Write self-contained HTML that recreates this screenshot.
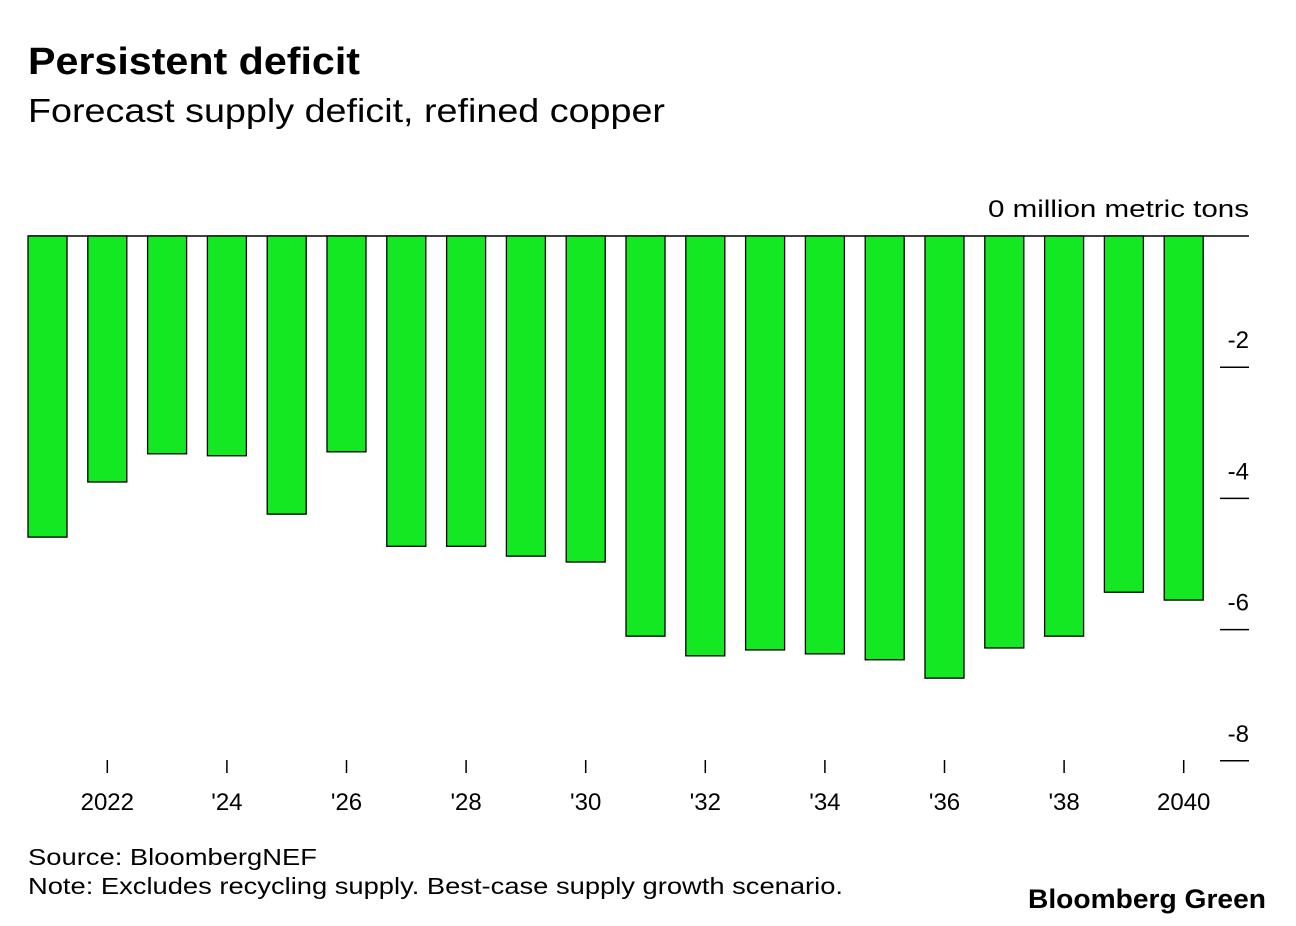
<!DOCTYPE html>
<html><head><meta charset="utf-8">
<style>
body{margin:0;background:#fff;width:1296px;height:926px;overflow:hidden;font-family:"Liberation Sans",sans-serif;}
svg{display:block}
</style></head>
<body>
<svg id="chart" width="1296" height="926">
<text x="28" y="74" font-size="38" font-weight="bold" fill="#000" textLength="332" lengthAdjust="spacingAndGlyphs">Persistent deficit</text>
<text x="28" y="122" font-size="33" fill="#000" textLength="637" lengthAdjust="spacingAndGlyphs">Forecast supply deficit, refined copper</text>
<g id="grid"></g>
<g id="bars"></g>
<g id="xaxis"></g>
<text x="28" y="865" font-size="23" fill="#000" textLength="289" lengthAdjust="spacingAndGlyphs">Source: BloombergNEF</text>
<text x="28" y="894" font-size="23" fill="#000" textLength="815" lengthAdjust="spacingAndGlyphs">Note: Excludes recycling supply. Best-case supply growth scenario.</text>
<text x="1028" y="908" font-size="27" font-weight="bold" fill="#000" textLength="238" lengthAdjust="spacingAndGlyphs">Bloomberg Green</text>
</svg>
<script>
const years=[2021,2022,2023,2024,2025,2026,2027,2028,2029,2030,2031,2032,2033,2034,2035,2036,2037,2038,2039,2040];
const values=[-4.59,-3.75,-3.32,-3.35,-4.24,-3.29,-4.73,-4.73,-4.88,-4.97,-6.10,-6.40,-6.31,-6.37,-6.46,-6.74,-6.28,-6.10,-5.43,-5.55];
const yTicks=[-2,-4,-6,-8];
const xTickYears=[2022,2024,2026,2028,2030,2032,2034,2036,2038,2040];
const xTickLabels=["2022","'24","'26","'28","'30","'32","'34","'36","'38","2040"];
const NS="http://www.w3.org/2000/svg";
const y=v=>236-v*65.6;
const xc=yr=>47.5+(yr-2021)*59.8;
function mk(tag,attrs,parent,txt){const e=document.createElementNS(NS,tag);for(const k in attrs)e.setAttribute(k,attrs[k]);if(txt!=null)e.textContent=txt;parent.appendChild(e);return e;}
const grid=document.getElementById('grid'),bars=document.getElementById('bars'),xa=document.getElementById('xaxis');
yTicks.forEach(t=>{
 const yy=y(t);
 const l=mk('line',{x1:1220,x2:1249,y1:yy,y2:yy,stroke:'#000','stroke-width':1.5},grid);
 
 
 const tx=mk('text',{x:1249,y:yy-19,'font-size':24,'text-anchor':'end',fill:'#000'},grid,String(t));
 
 
});
const zl=mk('text',{x:988,y:y(0)-19,'font-size':24,fill:'#000',textLength:261,lengthAdjust:'spacingAndGlyphs'},grid,'0 million metric tons');


years.forEach((yr,i)=>{
 const v=values[i];
 const r=mk('rect',{x:xc(yr)-19.5,y:y(0),width:39,height:y(v)-y(0),fill:'#14e823',stroke:'#000','stroke-width':1.3},bars);
 
 
});
const z=mk('line',{x1:28,x2:1249,y1:y(0),y2:y(0),stroke:'#000','stroke-width':1.5},grid);


xTickYears.forEach((yr,i)=>{
 const x=xc(yr);
 const l=mk('line',{x1:x,x2:x,y1:760,y2:773,stroke:'#000','stroke-width':1.5},xa);
 
 
 const t=mk('text',{x:x,y:810,'font-size':24,'text-anchor':'middle',fill:'#000'},xa,xTickLabels[i]);
 
 
});
</script>
</body></html>
